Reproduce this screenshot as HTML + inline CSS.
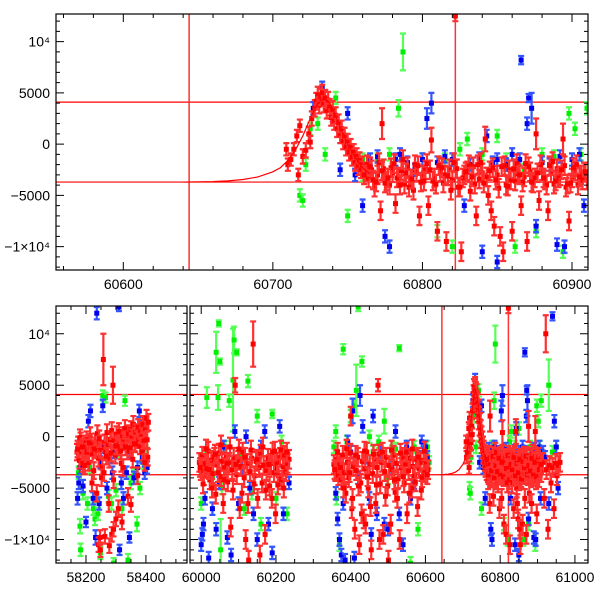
<!DOCTYPE html>
<html><head><meta charset="utf-8"><style>
html,body{margin:0;padding:0;background:#fff;}
svg{display:block;font-family:"Liberation Sans",sans-serif;}
</style></head><body>
<svg id="chart" width="600" height="600" viewBox="0 0 600 600" xmlns="http://www.w3.org/2000/svg">
<defs>
<clipPath id="cTop"><rect x="56" y="14" width="532" height="256"/></clipPath>
<clipPath id="cBL"><rect x="56" y="306" width="131" height="257"/></clipPath>
<clipPath id="cBR"><rect x="190" y="306" width="398" height="257"/></clipPath>
</defs>
</svg>
<script>
// ---- data: [day, flux, error] ----
const redA=[[58170,-1500,800],[58174,-800,800],[58178,-2300,800],[58182,-400,800],[58186,-1600,800],[58190,-2600,800],[58194,-700,800],[58198,-1900,800],[58202,-300,800],[58206,-1100,800],[58210,-2500,800],[58214,100,800],[58218,-900,800],[58222,-1700,800],[58226,-3300,800],[58230,-500,800],[58234,-1300,800],[58238,300,800],[58242,-2100,800],[58246,-700,800],[58250,-1200,800],[58254,-2900,800],[58258,7500,2500],[58262,-600,800],[58266,-1500,800],[58270,400,800],[58274,-900,800],[58278,-2200,800],[58282,-300,800],[58286,600,800],[58290,5000,1800],[58294,-400,800],[58298,-1800,800],[58302,200,800],[58306,-700,800],[58310,500,800],[58314,-1000,800],[58318,-2600,800],[58322,100,800],[58326,-500,800],[58330,800,800],[58334,-300,800],[58338,-1400,800],[58342,300,800],[58346,-200,800],[58350,700,800],[58354,-100,800],[58358,1200,800],[58362,-600,800],[58366,400,800],[58370,-300,800],[58374,900,800],[58378,-200,800],[58382,600,800],[58386,0,800],[58390,1200,800],[58394,-400,800],[58398,800,800],[58402,1800,800],[58406,-2000,800],[58408,1400,800],
[58172,-1200,800],[58180,-100,800],[58188,-1000,800],[58196,-2800,800],[58204,-1500,800],[58212,-600,800],[58220,-4500,800],[58228,-1200,800],[58236,-5500,800],[58244,-200,800],[58252,-4000,800],[58260,-3500,800],[58268,-1900,800],[58276,-6500,800],[58284,-1600,800],[58292,-4200,800],[58300,-900,800],[58308,-7000,800],[58316,-1400,800],[58324,-3000,800],[58332,-1000,800],[58340,-5800,800],[58348,-1100,800],[58356,-2200,800],[58364,-700,800],[58372,-3800,800],[58380,-900,800],[58388,-1500,800],[58396,-2500,800],[58404,-300,800],
[58242,-10500,700],[58247,-9800,700],[58263,-9700,700],[58278,-10600,700],[58286,-9500,700],[58292,-9000,700],[58300,-8000,700],[58320,-8300,700],[58350,-6600,700],[58248,-11000,700]];
const blueA=[[58172,-6000,600],[58176,-4500,600],[58180,-3000,600],[58190,-4800,600],[58200,-8300,500],[58208,1500,600],[58215,2500,600],[58224,-6000,600],[58232,-9800,700],[58236,12000,600],[58244,-6500,600],[58248,-2500,600],[58256,3000,600],[58262,-1000,600],[58270,-5000,600],[58280,-2000,600],[58288,-3500,600],[58296,-1500,600],[58310,12600,400],[58312,-11000,500],[58318,-4500,600],[58325,-6000,600],[58335,-3500,600],[58345,-9800,500],[58350,-1500,600],[58360,-4000,600],[58372,-3000,600],[58380,1000,600],[58388,-2000,600],[58396,-3500,600],[58404,-3000,600],[58378,2500,600]];
const greenA=[[58175,-3500,600],[58180,-8700,700],[58182,-11000,600],[58190,-5500,600],[58205,-6500,600],[58212,-3000,600],[58225,-7000,600],[58230,-8000,600],[58240,-7500,600],[58248,-11300,600],[58256,4000,500],[58265,3800,500],[58275,-5800,600],[58285,-6500,600],[58292,-12300,500],[58300,-5200,600],[58310,-1500,600],[58320,-7000,600],[58330,3500,500],[58340,-12000,600],[58350,-4500,600],[58360,-3800,600],[58370,-8500,700],[58380,-5000,600],[58390,-2500,600],[58400,-1000,600]];
const redB=[[59995,-2500,900],[59999,-3300,900],[60003,-1900,900],[60007,-3800,900],[60011,-2600,900],[60015,-3100,900],[60019,-1400,900],[60023,-4200,900],[60027,-2300,900],[60031,-3600,900],[60035,-2000,900],[60039,-5600,900],[60043,-2700,900],[60047,-1600,900],[60051,-3900,900],[60055,-2400,900],[60059,-6500,900],[60063,-3000,900],[60067,-1800,900],[60071,-4400,900],[60075,-2500,900],[60079,-8800,900],[60083,-3200,900],[60087,-2000,900],[60091,5000,700],[60095,-3700,900],[60099,-2300,900],[60103,-7000,900],[60107,-2900,900],[60111,-1500,900],[60115,-4000,900],[60119,-10000,900],[60123,-2600,900],[60127,-12000,900],[60131,-3400,900],[60135,-2100,900],[60139,9000,2200],[60143,-3800,900],[60147,-2400,900],[60151,-6000,900],[60155,-3000,900],[60159,-1700,900],[60163,-4500,900],[60167,-2800,900],[60171,-9500,900],[60175,-3300,900],[60179,-2100,900],[60183,-4800,900],[60187,-2600,900],[60191,-1500,900],[60195,-3500,900],[60199,-7500,900],[60203,-2500,900],[60207,-3800,900],[60211,-2000,900],[60215,-4200,900],[60219,-2900,900],[60223,-1800,900],[60227,-3400,900],[60231,-2600,900],[60235,-2200,900],
[59997,-3000,900],[60005,-4600,900],[60013,-1200,900],[60021,-3200,900],[60029,-5000,900],[60037,-1700,900],[60045,-3500,900],[60053,-800,900],[60061,-4200,900],[60069,-2600,900],[60077,-1000,900],[60085,-5200,900],[60093,-2700,900],[60101,-1200,900],[60109,-5500,900],[60117,-2000,900],[60125,-6500,900],[60133,-1300,900],[60141,-4600,900],[60149,-2200,900],[60157,-11500,900],[60165,-1000,900],[60173,-5200,900],[60181,-2700,900],[60189,-6000,900],[60197,-1400,900],[60205,-4700,900],[60213,-1300,900],[60221,-5000,900],[60229,-1500,900]];
const blueB=[[60000,-10500,600],[60003,-9500,600],[60006,-8500,600],[60010,-6000,600],[60020,-11800,600],[60030,-7000,600],[60040,-9000,600],[60048,-4500,600],[60060,-1000,600],[60070,-9800,600],[60080,-11500,600],[60090,500,600],[60100,-6500,600],[60110,-3000,600],[60120,0,600],[60130,-5000,600],[60140,-7500,600],[60150,-10000,600],[60160,-1000,600],[60170,500,600],[60180,-8500,600],[60190,-11300,600],[60200,-3000,600],[60210,1000,600],[60220,-7500,600],[60230,-2000,600],[60235,-4500,600]];
const greenB=[[60000,-6500,600],[60010,-2000,600],[60015,3800,1000],[60030,-4000,600],[60040,8200,2000],[60045,3800,1200],[60047,11000,300],[60050,7300,300],[60055,-5000,600],[60065,-1000,600],[60075,3500,600],[60085,5500,5000],[60088,9400,1300],[60095,8200,300],[60105,-2000,600],[60115,-7000,600],[60125,5400,600],[60135,-5500,600],[60150,2000,600],[60160,-8500,600],[60175,-2500,600],[60190,2200,400],[60200,-6000,600],[60215,-500,600],[60230,-7500,600],[60052,-11000,3000]];
const redC=[[60355,-2700,900],[60359,-3400,900],[60363,-2200,900],[60367,-3800,900],[60371,-2600,900],[60375,-4200,900],[60379,-1800,900],[60383,-3500,900],[60387,-5500,900],[60391,-2500,900],[60395,-4000,900],[60399,-1600,900],[60403,-7000,900],[60407,-2900,900],[60411,-9000,900],[60415,-3300,900],[60419,-2000,900],[60423,-10500,900],[60427,-4500,900],[60431,-2400,900],[60435,-8000,900],[60439,-3100,900],[60443,-1500,900],[60447,-5000,900],[60451,-2700,900],[60455,-11000,900],[60459,-3600,900],[60463,-2200,900],[60467,-6500,900],[60471,-3000,900],[60475,-1700,900],[60479,-4600,900],[60483,-2500,900],[60487,-9500,900],[60491,-3400,900],[60495,-2000,900],[60499,-4800,900],[60503,-2800,900],[60507,-8500,900],[60511,-3200,900],[60515,-1800,900],[60519,-5400,900],[60523,-2600,900],[60527,-4100,900],[60531,-10000,900],[60535,-3000,900],[60539,-2000,900],[60543,-4500,900],[60547,-2700,900],[60551,-7500,900],[60555,-3300,900],[60559,-2100,900],[60563,-5000,900],[60567,-2900,900],[60571,-3800,900],[60575,-2200,900],[60579,-6800,900],[60583,-3100,900],[60587,-2500,900],[60591,-4000,900],[60595,-2300,900],[60599,-3500,900],[60603,-2700,900],[60607,-3200,900],
[60357,-3200,900],[60365,-1500,900],[60373,-3000,900],[60381,-5000,900],[60389,-1200,900],[60397,-3500,900],[60405,-6000,900],[60413,-1800,900],[60421,-4800,900],[60429,-7500,900],[60437,-1400,900],[60445,-3900,900],[60453,-6800,900],[60461,-1700,900],[60469,-4700,900],[60477,-10000,900],[60485,-1500,900],[60493,-5800,900],[60501,-12000,900],[60509,-1300,900],[60517,-4200,900],[60525,-6000,900],[60533,-1600,900],[60541,-3900,900],[60549,-1500,900],[60557,-5500,900],[60565,-1200,900],[60573,-4400,900],[60581,-2000,900],[60589,-5200,900],[60597,-1400,900],[60605,-3700,900],[60473,5000,600],[60400,2000,900],[60440,-8500,900]];
const blueC=[[60360,-5500,600],[60365,-8000,600],[60370,-10000,600],[60375,-11500,600],[60380,-6500,600],[60385,-12000,600],[60392,-500,600],[60400,-1500,600],[60405,2500,1200],[60410,-11800,600],[60420,-4000,600],[60425,4000,1000],[60432,1000,600],[60440,-2000,600],[60450,-6000,600],[60455,-9500,600],[60460,2000,600],[60470,-7500,600],[60480,-1500,600],[60490,-8500,600],[60500,-9000,600],[60510,-3000,600],[60520,500,600],[60530,-7500,600],[60540,-10500,600],[60550,-1000,600],[60560,-6000,600],[60570,-4500,600],[60580,-2000,600],[60590,-500,600],[60600,-1000,600],[60605,-2000,600]];
const greenC=[[60355,-1000,600],[60360,500,600],[60362,-6000,600],[60370,-10500,600],[60380,8500,500],[60390,-500,600],[60400,2000,600],[60410,3000,600],[60415,4500,2500],[60420,12600,400],[60430,7300,500],[60440,-2000,600],[60450,0,600],[60460,-1500,600],[60475,-500,600],[60490,1500,1200],[60500,-4000,600],[60510,-1000,600],[60520,-1200,600],[60530,8600,300],[60540,-3000,600],[60560,-12300,600],[60570,-1000,600],[60580,-9000,600],[60600,-1500,600],[60605,-1000,600],[60610,-2500,600]];
const redD=[[60710,-2000,600],[60712,-1500,600],[60714,-500,600],[60716,800,600],[60718,1800,600],[60720,-1200,700],[60722,-600,700],[60724,1000,700],[60726,2500,700],[60728,3500,800],[60729,4200,800],[60730,4800,800],[60731,3800,800],[60732,4600,800],[60733,5000,800],[60734,3900,800],[60735,4500,800],[60736,3300,800],[60737,4300,800],[60738,3600,800],[60739,2600,800],[60740,3400,800],[60741,2200,800],[60742,2800,800],[60743,1500,800],[60744,2100,800],[60745,900,800],[60746,1500,800],[60747,300,800],[60748,800,800],[60749,-300,800],[60750,200,800],[60751,-800,800],[60752,-300,800],[60753,-1300,800],[60754,-800,800],[60755,-1800,800],[60756,-1200,800],[60757,-2200,800],[60758,-1600,800],[60759,-2500,800],[60760,-2000,800],
[60762,-2700,900],[60764,-3300,900],[60766,-2500,900],[60768,-4200,900],[60770,-3000,900],[60772,-6500,900],[60773,2000,1500],[60774,-2400,900],[60776,-3600,900],[60778,-4000,900],[60780,-2800,900],[60782,-5800,900],[60784,-3200,900],[60786,-2600,900],[60788,-3900,900],[60790,-2200,900],[60792,-3400,900],[60794,-4500,900],[60796,-2700,900],[60798,-7000,900],[60800,-3000,900],[60802,-2500,900],[60804,-6000,900],[60806,400,1200],[60808,-3300,900],[60810,-8500,900],[60812,-2700,900],[60814,-3800,900],[60816,-9500,900],[60818,-2400,900],[60820,-3500,900],[60822,12500,500],[60824,-4200,900],[60826,-10500,900],[60828,-3000,900],[60830,-2600,900],[60832,-4600,900],[60834,-2200,900],[60836,-7000,900],[60838,-3400,900],[60840,-2800,900],[60842,500,1200],[60844,-5000,900],[60846,-6500,900],[60848,-8000,900],[60850,-3000,900],[60852,-9000,900],[60854,-10500,900],[60856,-4000,900],[60858,-2500,900],[60860,-8500,900],[60862,-3600,900],[60864,-2900,900],[60866,-6000,900],[60868,-3200,900],[60870,-9500,900],[60872,-2700,900],[60874,-3800,900],[60876,1000,1500],[60878,-5500,900],[60880,-2600,900],[60882,-3500,900],[60884,-6500,900],[60886,-2800,900],[60888,-3900,900],[60890,-2400,900],[60892,-3100,900],[60894,500,1500],[60896,-4200,900],[60898,-7500,900],[60900,-3300,900],[60902,-2600,900],[60904,-4000,900],[60906,-3000,900],[60908,-2700,900],[60910,-3500,900],[60914,-2500,900],[60918,-6000,900],[60922,10000,1800],[60924,-3200,900],[60928,-9000,900],[60932,-2800,900],[60936,-4500,900],[60940,-3000,900],[60944,-7000,900],[60948,-2600,900],[60952,-3800,900],[60956,-2800,900],[60960,-2500,900],
[60763,-2000,900],[60767,-3500,900],[60771,-1800,900],[60775,-3800,900],[60779,-2300,900],[60783,-3300,900],[60787,-1500,900],[60791,-4200,900],[60795,-2000,900],[60799,-3700,900],[60803,-1900,900],[60807,-3600,900],[60811,-2100,900],[60815,-3000,900],[60819,-4500,900],[60823,-2400,900],[60827,-3300,900],[60831,-2000,900],[60835,-3900,900],[60839,-1800,900],[60843,-3200,900],[60847,-2300,900],[60851,-4300,900],[60855,-2100,900],[60859,-3500,900],[60863,-1900,900],[60867,-3700,900],[60871,-2200,900],[60875,-3300,900],[60879,-2000,900],[60883,-4000,900],[60887,-1700,900],[60891,-3300,900],[60895,-2100,900],[60899,-3800,900],[60903,-2000,900],[60907,-3500,900],[60709,-500,600],[60717,-3000,600],[60725,200,600],
[60761,-3000,900],[60765,-2200,900],[60769,-3700,900],[60773,-2600,900],[60777,-3300,900],[60781,-1900,900],[60785,-4000,900],[60789,-2800,900],[60793,-3400,900],[60797,-2100,900],[60801,-3600,900],[60805,-2500,900],[60809,-3900,900],[60813,-2300,900],[60817,-3100,900],[60821,-1800,900],[60825,-4200,900],[60829,-2700,900],[60833,-3200,900],[60837,-2000,900],[60841,-3800,900],[60845,-2600,900],[60849,-3500,900],[60853,-2200,900],[60857,-4100,900],[60861,-2400,900],[60865,-3000,900],[60869,-1900,900],[60873,-3700,900],[60877,-2800,900],[60881,-3300,900],[60885,-2100,900],[60889,-3600,900],[60893,-2500,900],[60897,-3900,900],[60901,-2300,900],[60905,-3200,900],[60909,-2700,900]];
const blueD=[[60727,3500,600],[60733,5500,600],[60740,2800,600],[60745,-2500,600],[60750,3000,600],[60755,-3000,600],[60760,-6000,600],[60765,-1500,600],[60770,-1200,600],[60775,-9000,600],[60778,-10000,600],[60782,-1500,600],[60785,-1000,600],[60790,-1800,600],[60795,-2500,600],[60800,-1500,600],[60803,2500,1000],[60806,4000,1000],[60810,-1800,600],[60815,-1200,600],[60820,-1500,600],[60828,-6000,600],[60832,-2000,600],[60838,-1400,600],[60843,800,600],[60847,-1800,600],[60850,-1500,600],[60856,-2000,600],[60860,-1000,600],[60865,-1500,600],[60870,2000,600],[60873,3500,1500],[60876,-8000,600],[60880,-1800,600],[60885,-2000,600],[60890,-9800,600],[60892,-1200,600],[60895,-10000,600],[60900,-1500,600],[60905,-1000,600],[60908,-6000,600],[60840,-10500,600],[60850,-11500,600],[60866,8200,400],[60871,4500,400],[60915,-1500,600],[60920,-2000,600],[60930,-6500,600],[60940,11700,400],[60945,1500,600],[60950,-1000,600],[60955,-5000,600]];
const greenD=[[60718,-5000,600],[60720,-5500,600],[60722,-2000,600],[60725,1500,600],[60730,2000,600],[60735,-1000,600],[60742,4500,600],[60750,-7000,600],[60760,-1500,600],[60770,-1500,600],[60778,-1000,600],[60784,3500,800],[60787,9000,1800],[60795,-2500,600],[60800,-1500,600],[60810,-8500,600],[60815,-1500,600],[60820,-10000,600],[60825,-500,600],[60830,500,600],[60840,-1000,600],[60850,800,600],[60856,-1500,600],[60862,-10000,600],[60868,-2500,600],[60876,-8500,600],[60880,-1000,600],[60888,-1200,600],[60894,-10500,600],[60898,3000,600],[60902,1500,600],[60906,-1000,600],[60910,3500,600],[60920,-2000,600],[60930,5000,2500],[60940,-1500,600],[60950,-1000,600],[60760,-3000,600]];
const fitDays=[60640,60650,60660,60670,60680,60690,60700,60705,60710,60715,60720,60725,60730,60734,60738,60742,60746,60750,60755,60760,60765];
const fitVals=[-3700,-3680,-3650,-3580,-3450,-3200,-2700,-2300,-1600,-600,800,2500,4000,4500,4000,2800,1300,0,-1300,-2300,-2900];
const hLines=[4100,-3700];
const vLines=[60644,60822];
const yMajor=[10000,5000,0,-5000,-10000];
const yLabels=["10⁴","5000","0","−5000","−1×10⁴"];
const topXTicks=[60600,60700,60800,60900];
const blXTicks=[58200,58400];
const brXTicks=[60000,60200,60400,60600,60800,61000];

const NS="http://www.w3.org/2000/svg";
const svg=document.getElementById('chart');
function mk(tag,attrs,parent){const e=document.createElementNS(NS,tag);for(const k in attrs)e.setAttribute(k,attrs[k]);(parent||svg).appendChild(e);return e;}
const yDom=[-12280,12700];
function panel(name,x0,x1,y0,y1,d0,d1,clip,majorX,minorStep,labelLeft,segs){
  const sx=d=>x0+(d-d0)/(d1-d0)*(x1-x0);
  const sy=v=>y1-(v-yDom[0])/(yDom[1]-yDom[0])*(y1-y0);
  const g=mk('g',{});
  
  
  const pg=mk('g',{'clip-path':'url(#'+clip+')'},g);
  
  
  hLines.forEach(v=>{const l=mk('line',{x1:x0,x2:x1,y1:sy(v),y2:sy(v),stroke:'#f00','stroke-width':1.2},pg);
    
    });
  vLines.forEach(d=>{const l=mk('line',{x1:sx(d),x2:sx(d),y1:y0,y2:y1,stroke:'#f33','stroke-width':1.5},pg);
    
    });
  const all={green:[greenA,greenB,greenC,greenD],blue:[blueA,blueB,blueC,blueD],red:[redA,redB,redC,redD]};
  const series=[['green','#00ee00','#55ff55'],['blue','#0000ee','#3355ff'],['red','#ff0000','#ff3030']];
  series.forEach(([nm,col,ecol])=>{
    const sg=mk('g',{},pg);
    
    
    segs.map(i=>all[nm][i]).forEach(arr=>arr.forEach(p=>{
      const cx=sx(p[0]);if(cx<x0-5||cx>x1+5)return;
      const cy=sy(p[1]),ya=sy(p[1]+p[2]),yb=sy(p[1]-p[2]);
      const eb=mk('path',{d:`M${cx},${ya}V${yb}M${cx-3},${ya}h6M${cx-3},${yb}h6`,stroke:ecol,'stroke-width':2.2,fill:'none'},sg);
      
      
      const m=mk('rect',{x:cx-2.5,y:cy-2.5,width:5,height:5,fill:col},sg);
      
      
    }));
  });
  const fp=mk('polyline',{points:fitDays.map((d,i)=>sx(d)+','+sy(fitVals[i])).join(' '),fill:'none',stroke:'#f00','stroke-width':1.2},pg);
  
  
  const fr=mk('rect',{x:x0,y:y0,width:x1-x0,height:y1-y0,fill:'none',stroke:'#000','stroke-width':1.2},g);
  
  
  let tp='';
  for(let v=-12000;v<=12000;v+=1000){const y=sy(v);const L=(v%5000===0)?8:4;tp+=`M${x0},${y}h${L}M${x1},${y}h${-L}`;}
  const first=Math.ceil(d0/minorStep)*minorStep;
  for(let d=first;d<=d1;d+=minorStep){const x=sx(d);const L=majorX.includes(d)?8:4;tp+=`M${x},${y1}v${-L}M${x},${y0}v${L}`;}
  const tk=mk('path',{d:tp,stroke:'#000','stroke-width':1,fill:'none'},g);
  
  
  if(labelLeft){yMajor.forEach((v,i)=>{const t=mk('text',{x:x0-6,y:sy(v)+5,'text-anchor':'end','font-size':14,fill:'#000'},g);t.textContent=yLabels[i];
    
    });}
  majorX.forEach(d=>{const t=mk('text',{x:sx(d),y:y1+19,'text-anchor':'middle','font-size':14,fill:'#000'},g);t.textContent=d;
    
    });
}
panel('top-panel',56,588,14,270,60555,60910.7,'cTop',topXTicks,20,true,[3]);
panel('bottom-left-panel',56,187,306,563,58100,58537,'cBL',blXTicks,50,true,[0]);
panel('bottom-right-panel',190,588,306,563,59970,61035,'cBR',brXTicks,50,false,[1,2,3]);
</script>
</body></html>
